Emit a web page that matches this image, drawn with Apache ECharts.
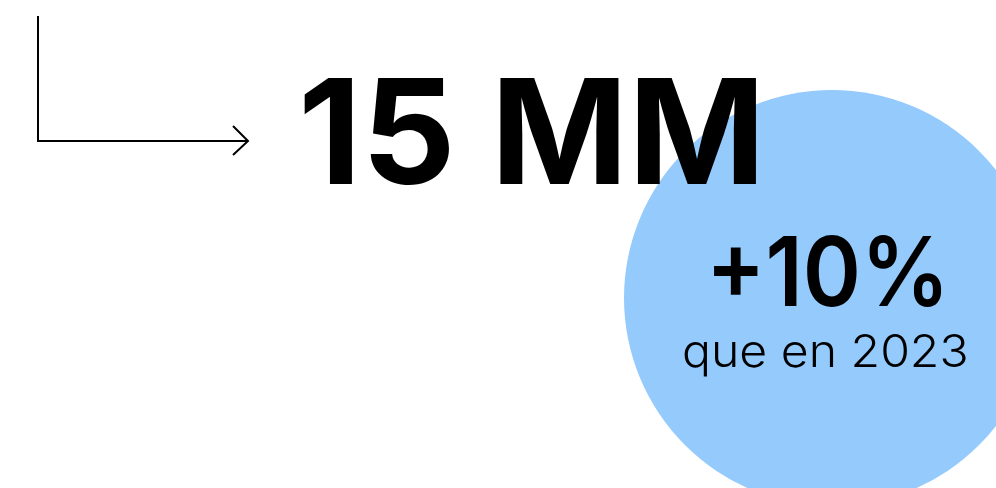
<!DOCTYPE html>
<html>
<head>
<meta charset="utf-8">
<script src="https://cdn.jsdelivr.net/npm/echarts@6/dist/echarts.min.js"></script>
<style>html,body{margin:0;padding:0;background:#fff}#c{width:996px;height:488px}</style>
</head>
<body>
<div id="c"></div>
<script>
const headline = ['15 MM'];
const changeValue = ['+10%'];
const changeNote = ['que en 2023'];

const chart = echarts.init(document.getElementById('c'), null, {renderer: 'canvas'});
chart.setOption({
  backgroundColor: '#ffffff',
  animation: false,
  graphic: [
    {type: 'circle', shape: {cx: 832, cy: 298, r: 208}, style: {fill: '#95CAFC'}, z: 1},
    {type: 'polyline', shape: {points: [[38, 16], [38, 141], [248, 141]]}, style: {stroke: '#000', lineWidth: 2, fill: null}, z: 2},
    {type: 'polyline', shape: {points: [[233, 126], [248, 141], [233, 155]]}, style: {stroke: '#000', lineWidth: 2, fill: null}, z: 2},
    {type: 'text', x: 298, y: 140, scaleX: 1.01, z: 3, style: {text: headline[0], fill: '#000', font: '700 146px Inter', textAlign: 'left', textVerticalAlign: 'middle'}},
    {type: 'text', x: 706, y: 277, scaleX: 0.92, z: 3, style: {text: changeValue[0], fill: '#000', font: '600 96px Inter', textAlign: 'left', textVerticalAlign: 'middle'}},
    {type: 'text', x: 682, y: 353, scaleX: 1.07, z: 3, style: {text: changeNote[0], fill: '#000', font: '300 45px Inter', textAlign: 'left', textVerticalAlign: 'middle'}}
  ]
});
</script>
</body>
</html>
